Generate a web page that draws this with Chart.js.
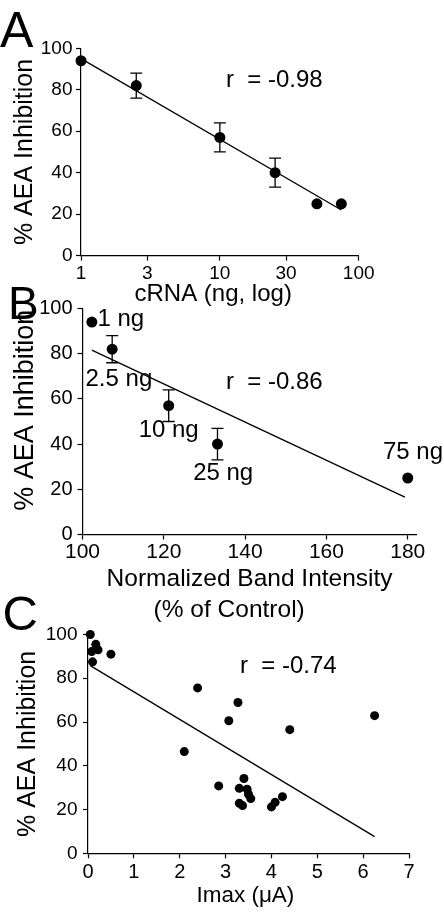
<!DOCTYPE html>
<html>
<head>
<meta charset="utf-8">
<script src="https://cdn.jsdelivr.net/npm/chart.js@4.4.1/dist/chart.umd.min.js"></script>
<style>
  body { margin: 0; background: #fff; }
  .wrap { position: relative; width: 444px; height: 914px; }
  canvas { position: absolute; left: 0; top: 0; }
</style>
</head>
<body>
<div class="wrap">
  <canvas id="chartA" width="444" height="914"></canvas>
  <canvas id="chartB" width="444" height="914"></canvas>
  <canvas id="chartC" width="444" height="914"></canvas>
</div>
<script>
// 공통 y축 눈금
const ticksY = [0, 20, 40, 60, 80, 100];

// A: cRNA 양(log) vs 억제율
const doseNg = [1, 2.5, 10, 25, 50, 75];
const inhibA = [94, 82, 57, 40, 25, 25];
const errA = [0, 6, 7, 7, 0, 0];
const fitAx = [1, 75];
const fitAy = [95, 22];
const ticksAx = [1, 3, 10, 30, 100];

// B: 밴드 강도 vs 억제율
const bandLabels = ['1 ng', '2.5 ng', '10 ng', '25 ng', '75 ng'];
const bandIntensity = [102.3, 107.3, 121.2, 133.2, 180];
const inhibB = [94, 82, 57, 40, 25];
const errB = [0, 6, 7, 7, 0];
const fitBx = [102.3, 179.3];
const fitBy = [81.6, 16.5];
const ticksBx = [100, 120, 140, 160, 180];

// C: Imax vs 억제율
const imax = [0.05, 0.17, 0.22, 0.08, 0.1, 0.5, 2.39, 3.27, 3.07, 4.4, 6.25, 2.1,
              2.85, 3.4, 3.3, 3.47, 3.5, 3.55, 3.3, 3.37, 4.0, 4.08, 4.24];
const inhibC = [100, 95.5, 93, 92.2, 87.5, 91, 75.6, 68.9, 60.6, 56.5, 62.9, 46.5,
                30.8, 34.2, 29.7, 29.3, 27, 25, 22.9, 21.8, 21.2, 23.3, 25.9];
const fitCx = [0.05, 6.25];
const fitCy = [85.8, 7.6];
const ticksCx = [0, 1, 2, 3, 4, 5, 6, 7];

const FONT = "'Liberation Sans', Arial, Helvetica, sans-serif";

// 축 설정 (눈금은 배열에서 그대로 사용)
function axis(o) {
    return {
        type: o.type || 'linear',
        min: o.min,
        max: o.max,
        afterBuildTicks: function (s) { s.ticks = o.ticks.map(v => ({value: v})); },
        afterFit: function (s) {
            if (o.width) s.width = o.width;
            if (o.height) s.height = o.height;
        },
        grid: {drawOnChartArea: false, drawTicks: true, tickLength: 5, tickColor: '#000', tickWidth: 1.2},
        border: {display: true, color: '#000', width: 1.2},
        ticks: {
            color: '#000', font: {family: FONT, size: o.tickSize}, padding: o.tickPad,
            maxRotation: 0, autoSkip: false, callback: v => String(v)
        },
        title: {
            display: true, text: o.title, color: '#000',
            font: {family: FONT, size: o.titleSize, lineHeight: o.titleLH || 1.2},
            padding: {top: o.titlePad || 0, bottom: 0}
        }
    };
}

// 오차막대 + 텍스트 그리기
function panelPlugin(p) {
    return {
        id: 'panel' + p.letter.text,
        beforeDatasetsDraw(chart) {
            if (!p.err) return;
            const {ctx, scales: {x, y}} = chart;
            ctx.save();
            ctx.strokeStyle = '#000';
            ctx.lineWidth = 1.3;
            p.err.forEach(function (e, i) {
                if (!e) return;
                const px = x.getPixelForValue(p.xs[i]);
                const top = y.getPixelForValue(p.ys[i] + e);
                const bot = y.getPixelForValue(p.ys[i] - e);
                ctx.beginPath();
                ctx.moveTo(px, top); ctx.lineTo(px, bot);
                ctx.moveTo(px - 6, top); ctx.lineTo(px + 6, top);
                ctx.moveTo(px - 6, bot); ctx.lineTo(px + 6, bot);
                ctx.stroke();
            });
            ctx.restore();
        },
        afterDraw(chart) {
            const {ctx, scales: {x, y}} = chart;
            ctx.save();
            ctx.fillStyle = '#000';
            // 패널 문자
            ctx.font = p.letter.size + 'px ' + FONT;
            ctx.textAlign = 'left';
            ctx.textBaseline = 'alphabetic';
            ctx.fillText(p.letter.text, p.letter.x, p.letter.y);
            // r 값
            ctx.font = '24px ' + FONT;
            ctx.textBaseline = 'middle';
            ctx.fillText(p.r.text, p.r.x, p.r.y);
            // 점 라벨
            if (p.labels) {
                ctx.textAlign = 'center';
                p.labels.forEach(function (t, i) {
                    const px = x.getPixelForValue(p.xs[i]) + p.labelOffsets[i][0];
                    const py = y.getPixelForValue(p.ys[i]) + p.labelOffsets[i][1];
                    ctx.fillText(t, px, py);
                });
            }
            ctx.restore();
        }
    };
}

function makePanel(id, p) {
    return new Chart(document.getElementById(id), {
        type: 'scatter',
        data: {
            datasets: [
                {
                    data: p.xs.map((x, i) => ({x: x, y: p.ys[i]})),
                    pointRadius: p.radius, pointBackgroundColor: '#000', pointBorderWidth: 0,
                    showLine: false, clip: false
                },
                {
                    data: p.fitX.map((x, i) => ({x: x, y: p.fitY[i]})),
                    showLine: true, pointRadius: 0, borderColor: '#000', borderWidth: 1.3, clip: false
                }
            ]
        },
        options: {
            responsive: false,
            animation: false,
            events: [],
            layout: {padding: p.pad},
            plugins: {legend: {display: false}, tooltip: {enabled: false}},
            scales: {x: axis(p.x), y: axis(p.y)}
        },
        plugins: [panelPlugin(p)]
    });
}

makePanel('chartA', {
    xs: doseNg, ys: inhibA, err: errA, fitX: fitAx, fitY: fitAy, radius: 5.5,
    pad: {top: 48.3, bottom: 605.1, left: 0, right: 85.3},
    letter: {text: 'A', x: 0, y: 47, size: 50},
    r: {text: 'r  = -0.98', x: 226, y: 80},
    x: {type: 'logarithmic', min: 1, max: 100, ticks: ticksAx, height: 53.3, tickSize: 19, tickPad: 1.3,
        title: 'cRNA (ng, log)  ', titleSize: 24},
    y: {min: 0, max: 100, ticks: ticksY, width: 81, tickSize: 19, tickPad: 3.5,
        title: '% AEA Inhibition', titleSize: 25, titlePad: 10}
});

makePanel('chartB', {
    xs: bandIntensity, ys: inhibB, err: errB, fitX: fitBx, fitY: fitBy, radius: 5.5,
    labels: bandLabels,
    labelOffsets: [[29, -2.5], [6.7, 30], [0, 24.6], [5.7, 29.4], [5.2, -26]],
    pad: {top: 308.5, bottom: 288.5, left: 0, right: 27.3},
    letter: {text: 'B', x: 8, y: 318.5, size: 46},
    r: {text: 'r  = -0.86', x: 226, y: 382},
    x: {min: 100, max: 182.2, ticks: ticksBx, height: 91, tickSize: 21, tickPad: 0.4,
        title: ['Normalized Band Intensity', '(% of Control)      '], titleSize: 24.5, titleLH: 31 / 24.5},
    y: {min: 0, max: 100, ticks: ticksY, width: 82.5, tickSize: 20, tickPad: 5,
        title: '   % AEA Inhibition', titleSize: 27, titlePad: 9.8}
});

makePanel('chartC', {
    xs: imax, ys: inhibC, fitX: fitCx, fitY: fitCy, radius: 4.5,
    pad: {top: 634.5, bottom: 4.5, left: 0, right: 35},
    letter: {text: 'C', x: 2.5, y: 630, size: 49},
    r: {text: 'r  = -0.74', x: 240, y: 666.7},
    x: {min: 0, max: 7, ticks: ticksCx, height: 56.2, tickSize: 20, tickPad: 2.2,
        title: 'Imax (μA) ', titleSize: 22.5},
    y: {min: 0, max: 100, ticks: ticksY, width: 88, tickSize: 19, tickPad: 5.5,
        title: '% AEA Inhibition', titleSize: 25, titlePad: 13.3}
});
</script>
</body>
</html>
